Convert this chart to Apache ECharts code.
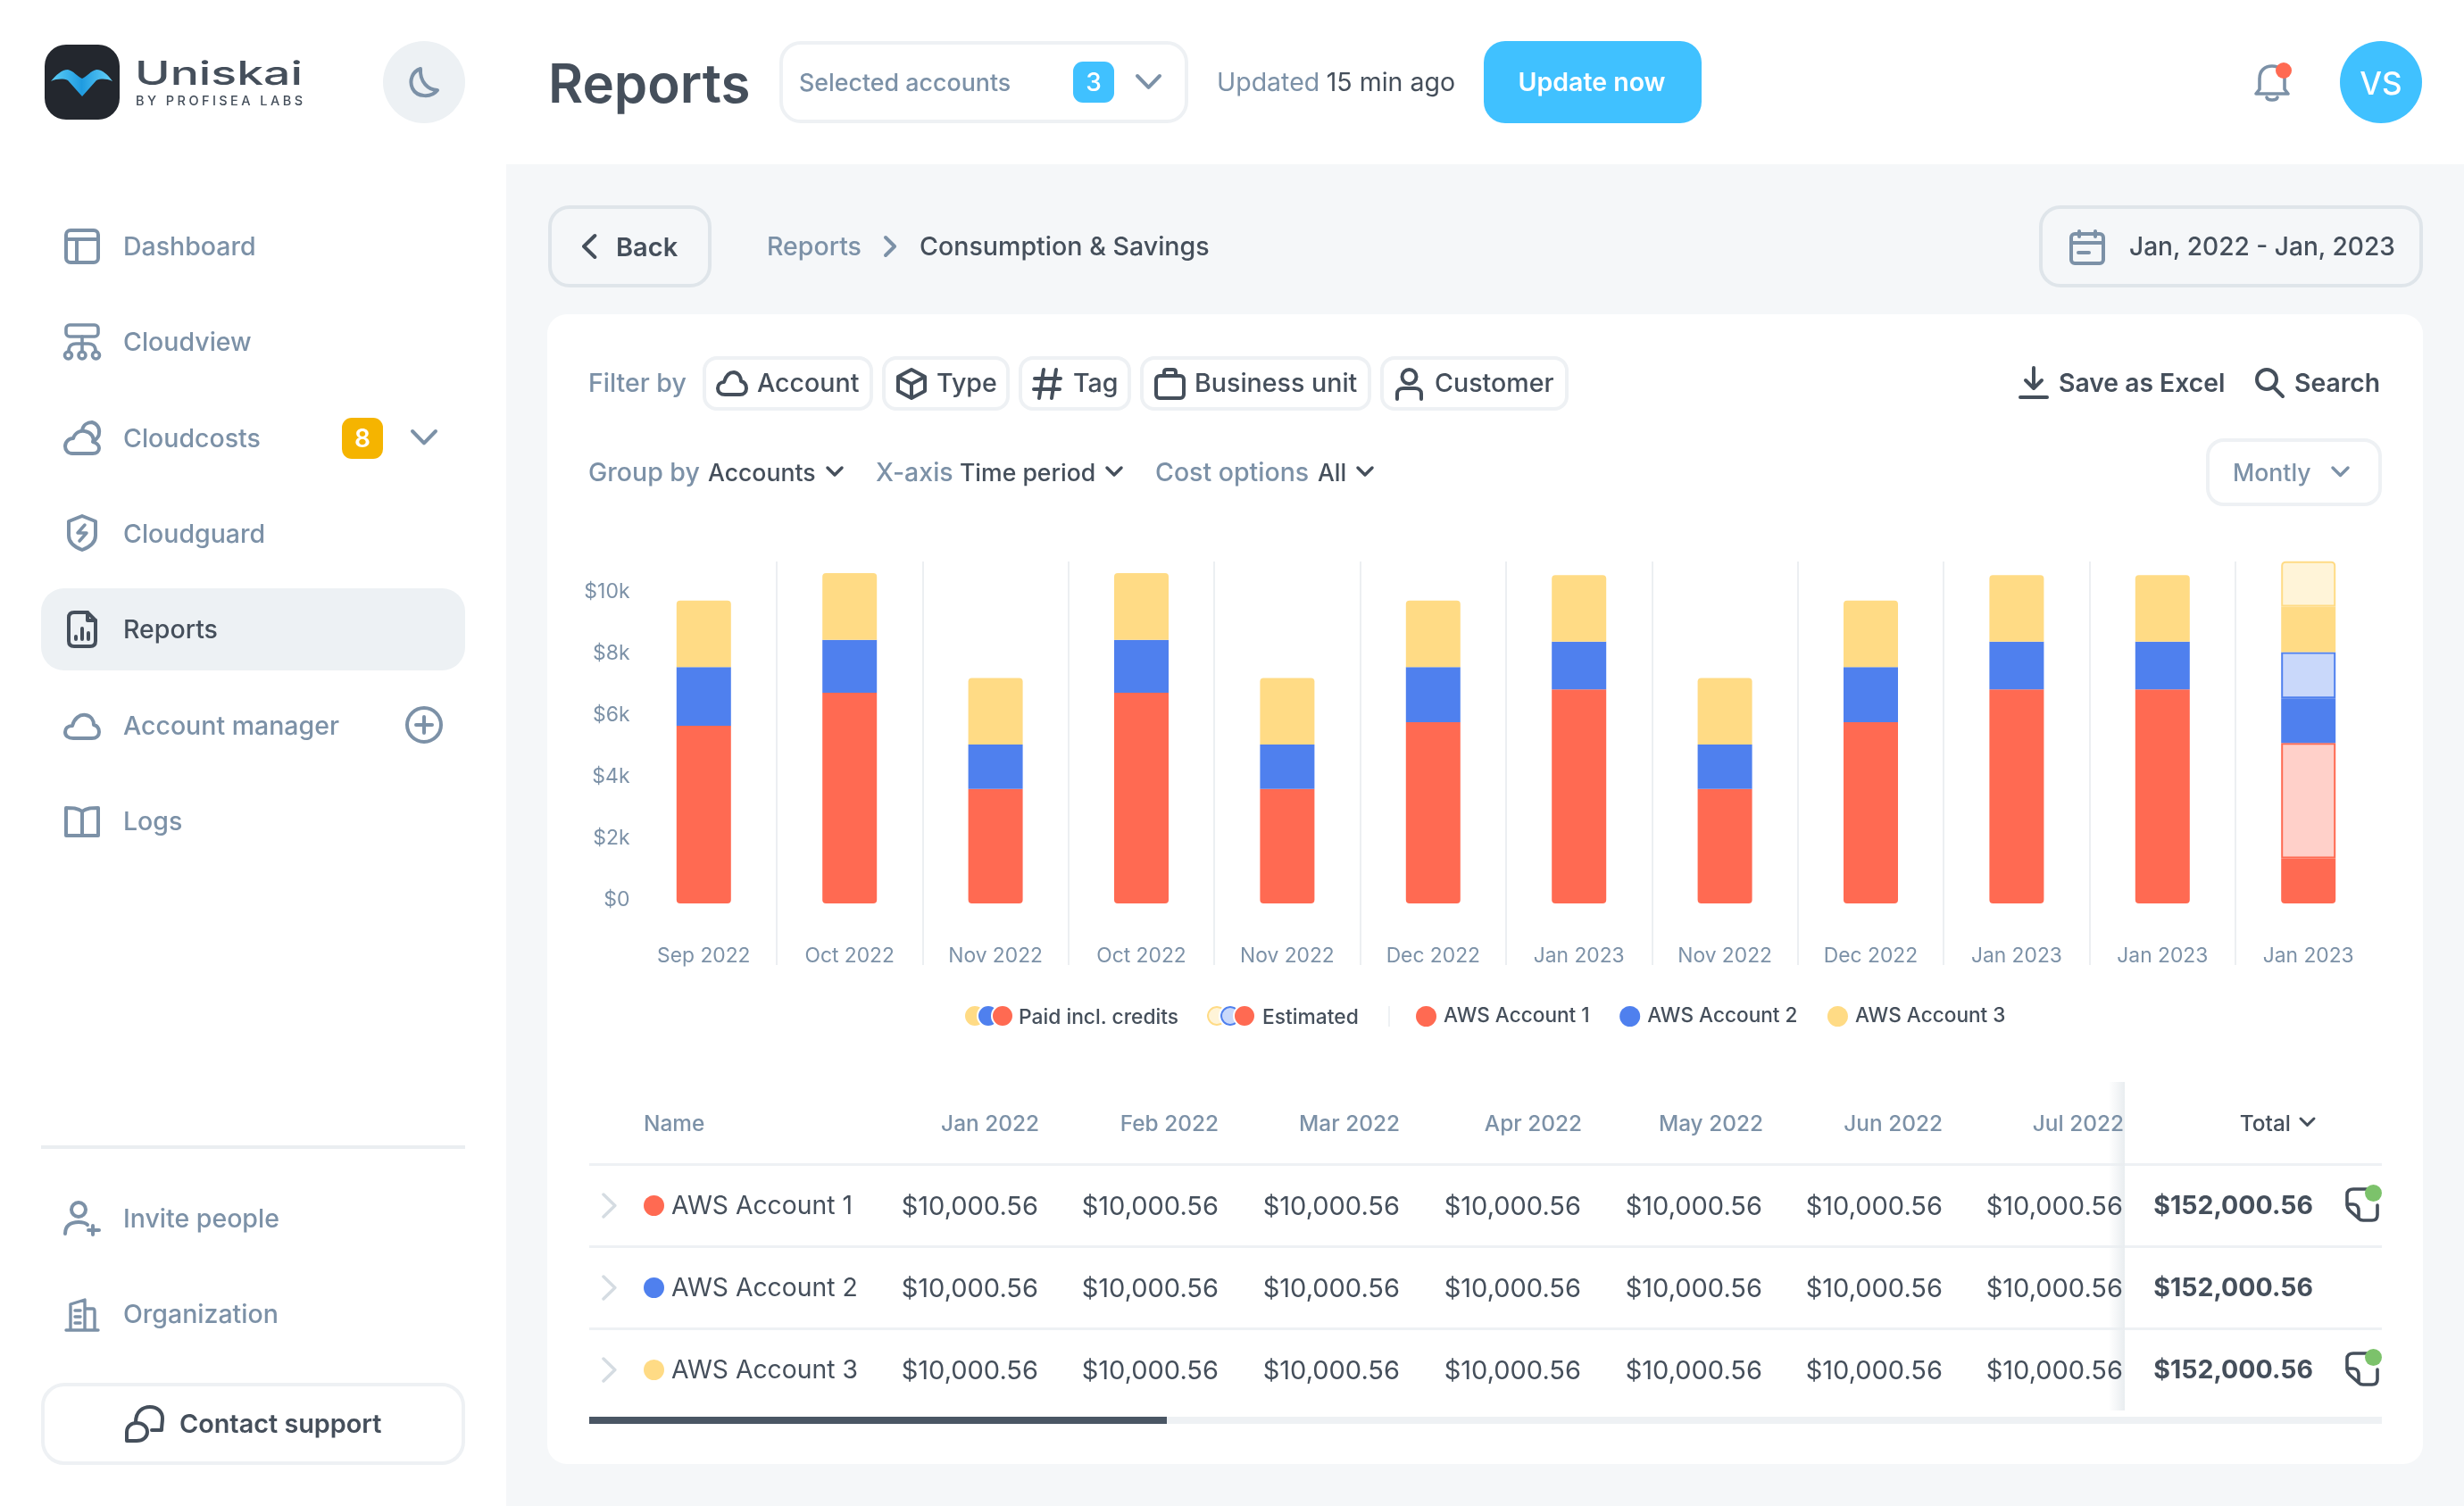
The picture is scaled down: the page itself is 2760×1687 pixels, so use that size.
<!DOCTYPE html>
<html>
<head>
<meta charset="utf-8">
<title>Reports</title>
<script src="https://cdn.jsdelivr.net/npm/echarts@6/dist/echarts.min.js"></script>
<style>
  html, body { margin: 0; padding: 0; background: #fff; overflow: hidden; }
  body { width: 2760px; height: 1687px; position: relative; font-family: Inter, sans-serif; }
  #page { position: absolute; left: 0; top: 0; width: 2760px; height: 1687px; }
  #main { position: absolute; left: 0; top: 0; width: 2760px; height: 1687px; z-index: 2; }
  .t { position: absolute; white-space: nowrap; line-height: 1; z-index: 3; }
  .b { position: absolute; box-sizing: border-box; }
  svg { position: absolute; z-index: 3; overflow: visible; }
</style>
</head>
<body>
<div id="page"></div>
<div id="main"></div>
<script>
    // chart data, in dollars
    var categories = ['Sep 2022', 'Oct 2022', 'Nov 2022', 'Oct 2022', 'Nov 2022', 'Dec 2022', 'Jan 2023', 'Nov 2022', 'Dec 2022', 'Jan 2023', 'Jan 2023', 'Jan 2023'];
    var paidAccount1 = [5770, 6840, 3720, 6840, 3720, 5880, 6950, 3720, 5880, 6950, 6950, 1460];
    var paidAccount2 = [1900, 1720, 1440, 1720, 1440, 1790, 1550, 1440, 1790, 1550, 1550, 1450];
    var paidAccount3 = [2160, 2160, 2160, 2160, 2160, 2160, 2160, 2160, 2160, 2160, 2160, 1480];
    var estAccount1 = [null, null, null, null, null, null, null, null, null, null, null, 3750];
    var estAccount2 = [null, null, null, null, null, null, null, null, null, null, null, 1500];
    var estAccount3 = [null, null, null, null, null, null, null, null, null, null, null, 1470];
    var tickValues = [0, 2000, 4000, 6000, 8000, 10000];
    var tickLabels = ['$0', '$2k', '$4k', '$6k', '$8k', '$10k'];
    var accountNames = ['AWS Account 1', 'AWS Account 2', 'AWS Account 3'];

    // table data
    var tableMonths = ['Jan 2022', 'Feb 2022', 'Mar 2022', 'Apr 2022', 'May 2022', 'Jun 2022', 'Jul 2022'];
    var tableCell = '$10,000.56';
    var tableTotal = '$152,000.56';

    var RED = '#FF6A52', BLUE = '#4F80EE', YELLOW = '#FFDB85';
    var RED_L = '#FFD0C9', BLUE_L = '#C9D8FA', YELLOW_L = '#FFF4D8';
    var MUTED = '#7C91A7', DARK = '#454F5B', LINE = '#EEF1F4', SKY = '#40C1FF', PANEL = '#F5F7F9';

    var page = document.getElementById('page');

    function box(x, y, w, h, css) {
        var d = document.createElement('div');
        d.className = 'b';
        d.style.cssText = 'left:' + x + 'px;top:' + y + 'px;width:' + w + 'px;height:' + h + 'px;' + (css || '');
        page.appendChild(d);
        return d;
    }
    // x is the left edge, or the right edge when align is 'r', or the middle when 'c'
    function text(s, x, y, size, color, weight, align, extra) {
        var d = document.createElement('div');
        d.className = 't';
        var tx = align === 'r' ? '-100%' : (align === 'c' ? '-50%' : '0');
        d.style.cssText = 'left:' + x + 'px;top:' + y + 'px;font-size:' + size + 'px;color:' + color + ';font-weight:' + (weight || 400) +
            ';transform:translate(' + tx + ',-50%);' + (extra || '');
        d.textContent = s;
        page.appendChild(d);
        return d;
    }
    // inner is svg markup in local pixels, with the given stroke
    function icon(x, y, w, h, inner, color, sw) {
        var s = '<svg style="left:' + x + 'px;top:' + y + 'px" width="' + w + '" height="' + h + '" viewBox="0 0 ' + w + ' ' + h +
            '" fill="none" stroke="' + color + '" stroke-width="' + (sw || 4) + '" stroke-linecap="round" stroke-linejoin="round">' + inner + '</svg>';
        page.insertAdjacentHTML('beforeend', s);
    }
    function chevronDown(cx, cy, w, color, sw) {
        var h = w * 0.55;
        icon(cx - w / 2, cy - h / 2, w, h, '<path d="M1 1L' + w / 2 + ' ' + (h - 1) + 'L' + (w - 1) + ' 1"/>', color, sw || 4);
    }
    function chevronSide(cx, cy, h, dir, color, sw) {
        var w = h * 0.55;
        var d = dir > 0 ? 'M1 1L' + (w - 1) + ' ' + h / 2 + 'L1 ' + (h - 1) : 'M' + (w - 1) + ' 1L1 ' + h / 2 + 'L' + (w - 1) + ' ' + (h - 1);
        icon(cx - w / 2, cy - h / 2, w, h, '<path d="' + d + '"/>', color, sw || 4);
    }

    // backgrounds
    box(567, 184, 2193, 1503, 'background:' + PANEL);
    box(613, 352, 2101, 1288, 'background:#fff;border-radius:22px');

    // logo
    page.insertAdjacentHTML('beforeend',
        '<svg style="left:50px;top:50px" width="84" height="84" viewBox="0 0 84 84">' +
        '<defs><linearGradient id="wv" x1="0" y1="0" x2="1" y2="0"><stop offset="0" stop-color="#5ED0F8"/><stop offset="0.5" stop-color="#1F9BE0"/><stop offset="1" stop-color="#66D2FA"/></linearGradient></defs>' +
        '<rect width="84" height="84" rx="24" fill="#23272E"/>' +
        '<path d="M7 41C13 34 19 28 26 28C32 29 37 36 42 38C47 36 52 29 58 28C65 28 71 34 76 41C69 38 63 38 58 40L42 58L26 40C21 38 14 38 7 41Z" fill="url(#wv)"/></svg>');
    page.insertAdjacentHTML('beforeend',
        '<svg style="left:150px;top:60px" width="192" height="62" viewBox="0 0 192 62" font-family="Inter">' +
        '<text x="1" y="35" font-size="37" font-weight="500" fill="' + DARK + '" textLength="188" lengthAdjust="spacingAndGlyphs">Uniskai</text>' +
        '<text x="2" y="58" font-size="14.5" font-weight="500" fill="' + DARK + '" textLength="187" lengthAdjust="spacing">BY PROFISEA LABS</text></svg>');

    // moon
    box(429, 46, 92, 92, 'background:#EDF1F4;border-radius:50%');
    icon(456, 74, 38, 38, '<path d="M15 3C6 6 2 16 6 25C11 35 27 36 34 27C24 27 14 18 15 3Z"/>', MUTED, 4);

    // nav
    var navNames = ['Dashboard', 'Cloudview', 'Cloudcosts', 'Cloudguard', 'Reports', 'Account manager', 'Logs', 'Invite people', 'Organization'];
    var navY = [276, 383, 490.5, 598, 705, 812.5, 920, 1365, 1472];
    box(46, 659, 475, 92, 'background:#EDF1F4;border-radius:26px');
    navNames.forEach(function (n, i) {
        text(n, 138, navY[i], 28.5, n === 'Reports' ? DARK : MUTED, 500);
    });
    // nav icons
    icon(72, 256, 40, 40, '<rect x="2" y="2" width="36" height="36" rx="5"/><path d="M2 12H38M14 12V38"/>', MUTED);
    icon(71, 362, 42, 44, '<rect x="3" y="2" width="36" height="13" rx="4"/><path d="M21 15V32M6 31C6 25 10 23 14 23H28C32 23 36 25 36 31"/><circle cx="5.500" cy="36" r="4"/><circle cx="21" cy="36" r="4"/><circle cx="36.500" cy="36" r="4"/>', MUTED, 3.6);
    icon(71, 471, 42, 40, '<path d="M10 37C5 37 2 33 2 29C2 24 6 20 11 20C13 14 18 11 24 12C31 13 35 19 33 24C37 25 40 28 40 31C40 35 37 37 33 37Z"/><path d="M21 11C22 5 27 2 32 2C37 3 41 8 40 14C40 17 38 20 35 22"/>', MUTED);
    icon(74, 576, 36, 42, '<path d="M18 2L33 8V24C33 32 26 37 18 40C10 37 3 32 3 24V8Z"/><path d="M21 12L13 21H23L15 30" stroke-width="3.500"/>', MUTED);
    icon(74, 684, 36, 42, '<path d="M24 2H9C5 2 3 4 3 8V34C3 38 5 40 9 40H27C31 40 33 38 33 34V11Z"/><path d="M24 2V11H33M11 32V29M18 32V20M25 32V25"/>', DARK);
    icon(71, 797, 42, 32, '<path d="M11 30C5 30 2 27 2 23C2 19 5 16 10 16C12 8 18 3 25 4C31 5 34 10 34 15C38 16 40 19 40 23C40 27 37 30 32 30Z"/>', MUTED);
    icon(454, 791, 42, 42, '<circle cx="21" cy="21" r="19"/><path d="M21 12V30M12 21H30"/>', MUTED);
    icon(71, 902, 42, 36, '<path d="M21 7C16 3 10 3 3 3V34C10 34 16 34 21 34C26 34 32 34 39 34V3C32 3 26 3 21 7ZM21 7V34"/>', MUTED);
    icon(71, 1345, 42, 40, '<circle cx="17" cy="10" r="8"/><path d="M2 37C2 28 8 24 17 24C21 24 25 25 27 27M33 28V38M28 33H40"/>', MUTED);
    icon(73, 1454, 38, 38, '<path d="M6 36V7L22 2V36M22 12H31C33 12 33 14 33 15V36M1 36H37M11 14H17M11 21H17M11 28H17"/>', MUTED, 3.4);

    // cloudcosts badge and the plus row
    box(383, 468, 46, 46, 'background:#F5B400;border-radius:11px');
    text('8', 406, 490.5, 28, '#fff', 600, 'c');
    chevronDown(475, 490, 28, MUTED, 4);
    box(46, 1283, 475, 4, 'background:#EAEEF1');
    box(46, 1549, 475, 92, 'border:4px solid ' + LINE + ';border-radius:26px;background:#fff');
    icon(140, 1573, 44, 44, '<path d="M12 20C12 8 20 3 28 3C36 3 42 8 42 16C42 20 41 24 41 29H30"/><path d="M2 31C2 25 7 21 13 21C20 21 25 25 25 31C25 37 20 41 13 41H2Z"/>', DARK);
    text('Contact support', 201, 1595, 28.8, DARK, 600);

    // header
    text('Reports', 614, 93, 60, DARK, 600);
    box(873, 46, 458, 92, 'border:4px solid ' + LINE + ';border-radius:24px;background:#fff');
    text('Selected accounts', 895, 92, 26.8, MUTED, 500);
    box(1202, 69, 46, 46, 'background:' + SKY + ';border-radius:11px');
    text('3', 1225, 92, 28, '#fff', 500, 'c');
    chevronDown(1286, 91, 27, MUTED, 4);
    text('Updated', 1363, 92, 28.500, MUTED, 400);
    text('15 min ago', 1630, 92, 28.500, DARK, 400, 'r');
    box(1662, 46, 244, 92, 'background:' + SKY + ';border-radius:24px');
    text('Update now', 1783, 92, 28.5, '#fff', 600, 'c');
    icon(2524, 68, 42, 48, '<path d="M7 32V20C7 11 13 6 21 6C29 6 35 11 35 20V32L39 37H3ZM15 41C16 45 26 45 27 41"/>', MUTED, 3.6);
    box(2549, 70, 18, 18, 'background:' + RED + ';border-radius:50%;z-index:4');
    box(2621, 46, 92, 92, 'background:' + SKY + ';border-radius:50%');
    text('VS', 2667, 93, 35, '#fff', 500, 'c');

    // breadcrumb row
    box(614, 230, 183, 92, 'border:4px solid #DFE5EA;border-radius:24px');
    chevronSide(660, 276, 26, -1, DARK, 4);
    text('Back', 690, 276, 29, DARK, 600);
    text('Reports', 859, 276, 28.5, MUTED, 500);
    chevronSide(997, 276, 22, 1, MUTED, 4);
    text('Consumption & Savings', 1030, 276, 28.6, DARK, 500);
    box(2284, 230, 430, 92, 'border:4px solid #DFE5EA;border-radius:24px');
    icon(2318, 257, 40, 40, '<rect x="2" y="5" width="36" height="33" rx="4"/><path d="M2 15H38M11 2V8M29 2V8M10 26H22"/>', MUTED);
    text('Jan, 2022 - Jan, 2023', 2385, 276, 28.1, DARK, 500);

    // filter row
    text('Filter by', 659, 429, 28.5, MUTED, 500);
    var chipText = ['Account', 'Type', 'Tag', 'Business unit', 'Customer'];
    var chipLeft = [787, 988, 1141, 1277, 1546];
    var chipRight = [978, 1131, 1267, 1536, 1757];
    var chipTextX = [848, 1049, 1202, 1338, 1607];
    chipText.forEach(function (c, i) {
        box(chipLeft[i], 399, chipRight[i] - chipLeft[i], 61, 'border:4px solid ' + LINE + ';border-radius:16px;background:#fff');
        text(c, chipTextX[i], 429, 28.6, DARK, 500);
    });
    icon(802, 414, 36, 30, '<path d="M10 28C5 28 2 25 2 21C2 17 5 14 9 14C11 7 15 3 20 3C26 4 28 9 28 13C32 14 34 17 34 21C34 25 31 28 27 28Z"/>', DARK);
    icon(1004, 412, 34, 36, '<path d="M17 2L32 10V26L17 34L2 26V10ZM2 10L17 18L32 10M17 18V34"/>', DARK);
    icon(1157, 412, 33, 36, '<path d="M12 2L7 34M26 2L21 34M2 12H31M1 24H30"/>', DARK);
    icon(1293, 412, 35, 36, '<rect x="2" y="9" width="31" height="25" rx="4"/><path d="M11 9V5C11 3 12 2 14 2H21C23 2 24 3 24 5V9"/>', DARK);
    icon(1563, 412, 31, 36, '<circle cx="15.500" cy="10" r="8"/><path d="M2 35V29C2 25 5 23 9 23H22C26 23 29 25 29 29V35"/>', DARK);
    icon(2261, 410, 34, 38, '<path d="M17 2V24M8 16L17 25L26 16M2 35H32"/>', DARK);
    text('Save as Excel', 2306, 429, 28.3, DARK, 600);
    icon(2525, 411, 34, 36, '<circle cx="14" cy="14" r="11"/><path d="M22 23L32 33"/>', DARK);
    text('Search', 2570, 429, 28.3, DARK, 600);

    // group row
    text('Group by', 659, 529, 28.5, MUTED, 500);
    text('Accounts', 793, 529, 26.6, DARK, 500);
    chevronDown(935, 528, 18, DARK, 3.500);
    text('X-axis', 981, 529, 28.5, MUTED, 500);
    text('Time period', 1075, 529, 26.6, DARK, 500);
    chevronDown(1248, 528, 18, DARK, 3.500);
    text('Cost options', 1294, 529, 28.5, MUTED, 500);
    text('All', 1476, 529, 26.6, DARK, 500);
    chevronDown(1529, 528, 18, DARK, 3.500);
    box(2471, 491, 197, 76, 'border:4px solid ' + LINE + ';border-radius:20px;background:#fff');
    text('Montly', 2501, 529, 26.6, MUTED, 500);
    chevronDown(2621, 528, 19, MUTED, 3.500);

    // legend rings beside the library legend
    function dot(x, fill, stroke) {
        box(x - 2, 1125, 26, 26, 'background:' + fill + ';border-radius:50%;border:2px solid #fff;z-index:3;' +
            (stroke ? 'box-shadow:inset 0 0 0 2px ' + stroke : ''));
    }
    dot(1081, YELLOW); dot(1096, BLUE); dot(1112, RED);
    text('Paid incl. credits', 1141, 1138.5, 22.8, DARK, 500);
    dot(1352, YELLOW_L, YELLOW); dot(1367, BLUE_L, BLUE); dot(1383, RED);
    text('Estimated', 1414, 1138.5, 22.8, DARK, 500);
    box(1555, 1127, 2, 23, 'background:' + LINE);

    // table
    var cellRight = [1163, 1365, 1568, 1771, 1974, 2176, 2378];
    var headRight = [1164, 1365, 1568, 1772, 1975, 2176, 2379];
    var rowY = [1350, 1442, 1534];
    var rowLineY = [1303, 1395, 1487];
    var rowColors = [RED, BLUE, YELLOW];
    box(2362, 1212, 18, 368, 'background:linear-gradient(to right,rgba(233,237,240,0),#E9EDF0);z-index:1');
    text('Name', 721, 1258, 24.4, MUTED, 500);
    tableMonths.forEach(function (m, i) {
        text(m, headRight[i], 1258, 24.4, MUTED, 500, 'r');
    });
    text('Total', 2566, 1258, 24.4, DARK, 500, 'r');
    chevronDown(2584, 1257, 17, DARK, 3);
    rowLineY.forEach(function (y) {
        box(660, y, 2008, 3, 'background:' + LINE);
    });
    accountNames.forEach(function (n, r) {
        var y = rowY[r];
        chevronSide(682, y, 27, 1, '#D5DCE2', 3.500);
        box(721, y - 11.500, 23, 23, 'background:' + rowColors[r] + ';border-radius:50%');
        text(n, 752, y, 28.3, DARK, 400);
        cellRight.forEach(function (cx) {
            text(tableCell, cx, y, 29, DARK, 400, 'r');
        });
        text(tableTotal, 2591, y, 28.500, DARK, 700, 'r');
        if (r !== 1) {
            icon(2627, y - 21, 38, 40, '<path d="M24 3H9C5 3 2 5 2 9V21C2 23 3 25 5 27L15 36C16 37 18 38 20 38H30C34 38 36 36 36 32V21M2 20H9C13 20 15 23 15 27V36"/>', DARK, 3.6);
            box(2648.500, y - 23.500, 19, 19, 'background:#7CC26B;border-radius:50%;z-index:4');
        }
    });
    box(660, 1587, 2008, 8, 'background:' + LINE);
    box(660, 1587, 647, 8, 'background:#4A5664');

    // the chart
    var myChart = echarts.init(document.getElementById('main'));

    function roundedAt(values, radius) {
        // top yellow keeps its round corners unless estimated sits above it
        return values.map(function (v, i) {
            return estAccount3[i] != null ? { value: v, itemStyle: { borderRadius: 0 } } : { value: v, itemStyle: { borderRadius: radius } };
        });
    }
    function barSeries(name, data, color, radius) {
        return {
            name: name, type: 'bar', stack: 'total', barWidth: 61, data: data,
            itemStyle: { color: color, borderRadius: radius || 0 }
        };
    }
    function estSeries(name, data, fill, stroke, radius) {
        return {
            name: name, type: 'bar', stack: 'total', barWidth: 61, data: data,
            itemStyle: { color: fill, borderColor: stroke, borderWidth: 2, borderRadius: radius || 0 }
        };
    }

    myChart.setOption({
        animation: false,
        textStyle: { fontFamily: 'Inter' },
        tooltip: { trigger: 'item' },
        legend: {
            left: 1586, top: 1127, padding: 0, itemGap: 33.5, itemWidth: 23, itemHeight: 23,
            icon: 'circle', data: accountNames,
            textStyle: { color: DARK, fontSize: 22.6, fontWeight: 500, fontFamily: 'Inter', padding: [0, 0, 0, 3] }
        },
        grid: { left: 706.6, right: 92.6, top: 629, bottom: 606 },
        xAxis: {
            type: 'category', data: categories,
            axisLine: { show: false, onZero: false }, axisTick: { show: false },
            axisLabel: { color: MUTED, fontSize: 22.8, margin: -21.5, interval: 0, fontFamily: 'Inter' },
            splitLine: { show: true, showMinLine: false, showMaxLine: false, lineStyle: { color: '#ECEFF2', width: 2 } }
        },
        yAxis: {
            type: 'value', min: -2000, max: 11100,
            axisLine: { show: false }, axisTick: { show: false }, splitLine: { show: false },
            axisLabel: {
                customValues: tickValues, color: MUTED, fontSize: 23, margin: 1, fontFamily: 'Inter',
                verticalAlign: 'bottom', lineHeight: 7,
                formatter: function (v) { return tickLabels[tickValues.indexOf(v)]; }
            }
        },
        series: [
            barSeries(accountNames[0], paidAccount1, RED, [0, 0, 4, 4]),
            estSeries(accountNames[0] + ' estimated', estAccount1, RED_L, RED),
            barSeries(accountNames[1], paidAccount2, BLUE),
            estSeries(accountNames[1] + ' estimated', estAccount2, BLUE_L, BLUE),
            barSeries(accountNames[2], roundedAt(paidAccount3, [4, 4, 0, 0]), YELLOW),
            estSeries(accountNames[2] + ' estimated', estAccount3, YELLOW_L, YELLOW, [4, 4, 0, 0])
        ]
    });
</script>
</body>
</html>
